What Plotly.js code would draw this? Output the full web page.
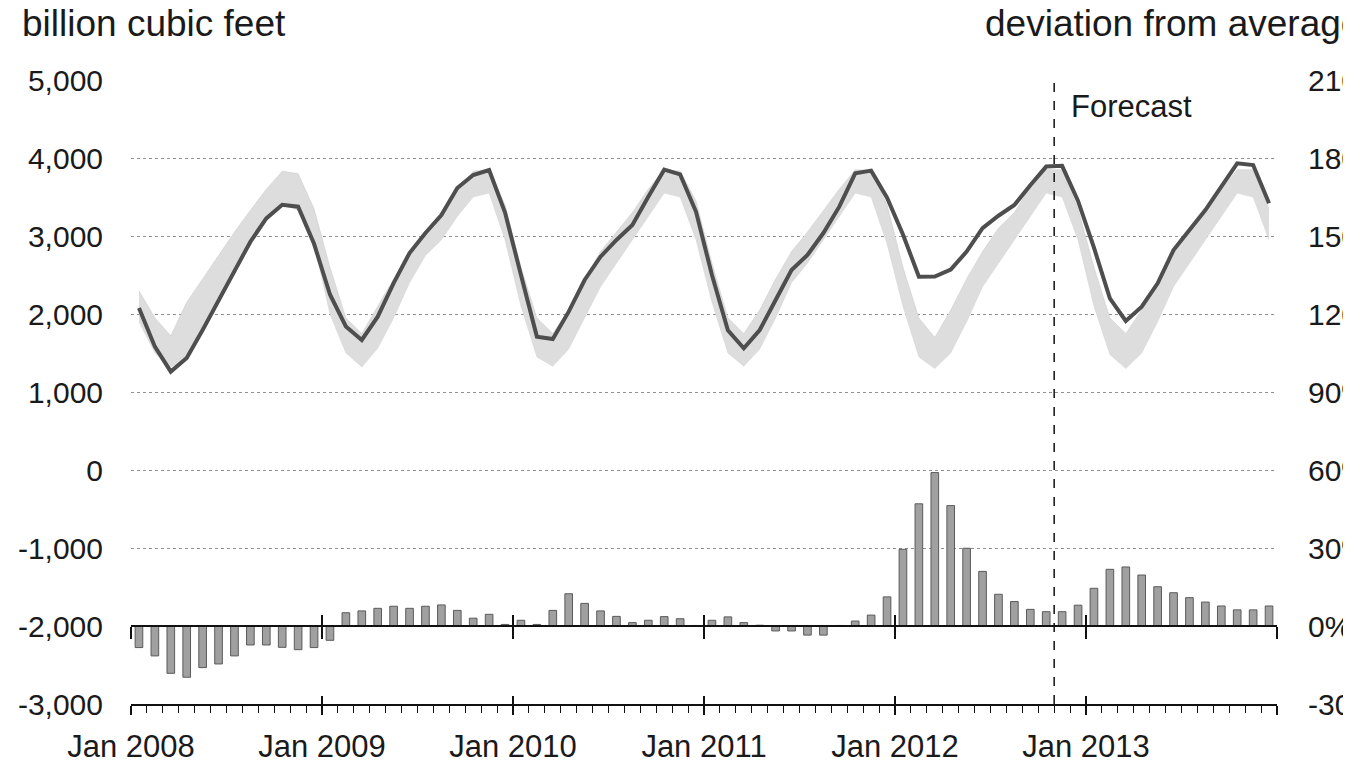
<!DOCTYPE html>
<html>
<head>
<meta charset="utf-8">
<script src="https://cdn.plot.ly/plotly-3.0.1.min.js"></script>
<style>
  html, body { margin: 0; padding: 0; background: #ffffff; width: 1365px; height: 763px; overflow: hidden; }
  #chart { width: 1343px; height: 763px; }
</style>
</head>
<body>
<div id="chart"></div>
<script>
// ---- data ----
const xTickLabels = ['Jan 2008', 'Jan 2009', 'Jan 2010', 'Jan 2011', 'Jan 2012', 'Jan 2013', ''];
const yearTickPos = [0, 12, 24, 36, 48, 60, 72];
const leftTickVals = [-3000, -2000, -1000, 0, 1000, 2000, 3000, 4000, 5000];
const leftTickText = ['-3,000', '-2,000', '-1,000', '0', '1,000', '2,000', '3,000', '4,000', '5,000'];
const rightTickVals = [-30, 0, 30, 60, 90, 120, 150, 180, 210];
const rightTickText = ['-30%', '0%', '30%', '60%', '90%', '120%', '150%', '180%', '210%'];

// working gas in storage, billion cubic feet, Jan 2008 .. Dec 2013
const storage = [
  2077, 1581, 1261, 1436, 1795, 2180, 2564, 2927, 3226, 3400, 3376, 2900,
  2250, 1840, 1667, 1966, 2397, 2782, 3038, 3269, 3615, 3782, 3846, 3300,
  2500, 1710, 1680, 2030, 2436, 2735, 2949, 3141, 3504, 3850, 3790, 3310,
  2500, 1790, 1560, 1795, 2180, 2564, 2756, 3038, 3376, 3803, 3838, 3492,
  3020, 2479, 2480, 2570, 2800, 3100, 3260, 3397, 3650, 3890, 3900, 3450,
  2850, 2200, 1910, 2094, 2393, 2820, 3077, 3333, 3632, 3932, 3910, 3419
];
// five-year range (shaded band), billion cubic feet
const rangeMin = [
  1900, 1500, 1320, 1420, 1780, 2150, 2530, 2880, 3200, 3400, 3330, 2900,
  2000, 1500, 1320, 1560, 1950, 2400, 2750, 2950, 3250, 3500, 3550, 2950,
  2100, 1450, 1330, 1550, 1950, 2350, 2650, 2950, 3250, 3550, 3500, 2950,
  2150, 1500, 1330, 1550, 1950, 2400, 2650, 2950, 3250, 3550, 3500, 2900,
  2100, 1450, 1300, 1500, 1900, 2350, 2650, 2950, 3250, 3550, 3500, 2950,
  2100, 1480, 1300, 1500, 1900, 2350, 2650, 2950, 3250, 3550, 3500, 2950
];
const rangeMax = [
  2300, 1950, 1720, 2150, 2450, 2750, 3050, 3330, 3600, 3830, 3800, 3350,
  2600, 1950, 1750, 2100, 2450, 2800, 3050, 3280, 3600, 3830, 3850, 3400,
  2600, 1950, 1750, 2050, 2450, 2800, 3050, 3300, 3600, 3850, 3830, 3450,
  2650, 1950, 1750, 2050, 2450, 2800, 3050, 3320, 3600, 3850, 3840, 3400,
  2600, 1950, 1700, 2050, 2450, 2800, 3100, 3300, 3630, 3850, 3850, 3350,
  2600, 1950, 1750, 2050, 2400, 2800, 3050, 3300, 3600, 3850, 3850, 3350
];
// deviation from average, percent
const deviation = [
  -8.3, -11.5, -18.2, -19.7, -16.0, -14.6, -11.5, -7.3, -7.3, -8.2, -9.1, -8.3,
  -5.5, 5.1, 5.8, 6.8, 7.6, 6.8, 7.6, 8.1, 6.0, 3.0, 4.5, 0.6,
  2.2, 0.6, 6.0, 12.4, 8.7, 5.8, 3.7, 1.3, 2.2, 3.6, 2.8, 0.2,
  2.2, 3.5, 1.3, 0.3, -1.9, -1.9, -3.5, -3.5, 0.2, 1.9, 4.2, 11.2,
  29.5, 47.0, 59.0, 46.3, 29.9, 21.0, 12.2, 9.4, 6.4, 5.5, 5.5, 8.0,
  14.5, 21.8, 22.7, 19.6, 15.1, 12.8, 10.9, 9.2, 7.7, 6.2, 6.2, 7.7
];
const forecastStart = 58; // month index where the forecast begins
const forecastLabel = 'Forecast';
const leftTitle = 'billion cubic feet';
const rightTitle = 'deviation from average';

// month index -> centre of month on a linear axis
const xMid = storage.map((_, i) => i + 0.5);

const FONT = 'Liberation Sans, Arial, Helvetica, sans-serif';
const TXT = '#1a1a1a';

const traces = [
  { x: xMid, y: rangeMin, type: 'scatter', mode: 'lines', xaxis: 'x', yaxis: 'y',
    line: { color: '#d2d2d2', width: 0.5 }, hoverinfo: 'skip', showlegend: false },
  { x: xMid, y: rangeMax, type: 'scatter', mode: 'lines', xaxis: 'x', yaxis: 'y',
    fill: 'tonexty', fillcolor: '#dddddd',
    line: { color: '#c8c8c8', width: 0.5 }, hoverinfo: 'skip', showlegend: false },
  { x: xMid, y: storage, type: 'scatter', mode: 'lines', xaxis: 'x', yaxis: 'y',
    line: { color: '#4e4e4e', width: 4 }, hoverinfo: 'skip', showlegend: false },
  { x: xMid, y: deviation, type: 'bar', xaxis: 'x', yaxis: 'y2', width: 0.48,
    marker: { color: '#a0a0a0', line: { color: '#5a5a5a', width: 1 } },
    hoverinfo: 'skip', showlegend: false },
  // empty traces so the helper axes are drawn
  { x: [], y: [], type: 'scatter', xaxis: 'x2', yaxis: 'y', showlegend: false, hoverinfo: 'skip' },
  { x: [], y: [], type: 'scatter', xaxis: 'x3', yaxis: 'y', showlegend: false, hoverinfo: 'skip' },
  { x: [], y: [], type: 'scatter', xaxis: 'x4', yaxis: 'y', showlegend: false, hoverinfo: 'skip' }
];

const helperX = {
  range: [0, 72], tickmode: 'array', tickvals: yearTickPos, showticklabels: false,
  showgrid: false, zeroline: false, tickcolor: '#111', fixedrange: true
};

const layout = {
  width: 1343, height: 763,
  margin: { l: 131, r: 66, t: 80, b: 59, pad: 0 },
  paper_bgcolor: '#ffffff', plot_bgcolor: '#ffffff',
  font: { family: FONT, color: TXT, size: 30 },
  showlegend: false,
  bargap: 0,
  xaxis: {
    range: [0, 72], fixedrange: true,
    tickmode: 'array', tickvals: yearTickPos, ticktext: xTickLabels,
    ticks: 'outside', ticklen: 9, tickwidth: 1.5, tickcolor: '#111',
    ticklabelstandoff: 5,
    tickfont: { family: FONT, size: 31, color: TXT },
    minor: { tickmode: 'linear', tick0: 0, dtick: 1, ticks: 'outside', ticklen: 7,
             tickwidth: 1, tickcolor: '#111', showgrid: false },
    showline: true, linecolor: '#111', linewidth: 2,
    showgrid: false, zeroline: false, anchor: 'y'
  },
  // 0% axis line with ticks crossing it
  xaxis2: Object.assign({}, helperX, { overlaying: 'x', anchor: 'free', position: 0.125,
    showline: true, linecolor: '#111', linewidth: 2, ticks: 'outside', ticklen: 12, tickwidth: 2 }),
  xaxis3: Object.assign({}, helperX, { overlaying: 'x', anchor: 'free', position: 0.125,
    showline: false, ticks: 'inside', ticklen: 11, tickwidth: 2 }),
  // upward part of the year ticks on the bottom axis
  xaxis4: Object.assign({}, helperX, { overlaying: 'x', anchor: 'free', position: 0,
    showline: false, ticks: 'inside', ticklen: 8, tickwidth: 1.5 }),
  yaxis: {
    range: [-3000, 5000], fixedrange: true,
    tickmode: 'array', tickvals: leftTickVals, ticktext: leftTickText,
    ticks: '', ticklabelstandoff: 27,
    tickfont: { family: FONT, size: 30, color: TXT },
    showgrid: true, gridcolor: '#8f8f8f', griddash: 'dot', gridwidth: 1,
    zeroline: false, showline: false
  },
  yaxis2: {
    range: [-30, 210], fixedrange: true, overlaying: 'y', side: 'right', anchor: 'x',
    tickmode: 'array', tickvals: rightTickVals, ticktext: rightTickText,
    ticks: '', ticklabelstandoff: 30,
    tickfont: { family: FONT, size: 30, color: TXT },
    showgrid: false, zeroline: false, showline: false
  },
  shapes: [
    { type: 'line', xref: 'x', yref: 'paper', x0: forecastStart, x1: forecastStart, y0: 0, y1: 1,
      line: { color: '#111', width: 1.5, dash: 'dash' } }
  ],
  annotations: [
    { text: leftTitle, xref: 'paper', yref: 'paper', x: -0.0969, y: 1.091,
      xanchor: 'left', yanchor: 'middle', showarrow: false,
      font: { family: FONT, size: 37, color: TXT } },
    { text: rightTitle, xref: 'paper', yref: 'paper', x: 0.7435, y: 1.091,
      xanchor: 'left', yanchor: 'middle', showarrow: false,
      font: { family: FONT, size: 37, color: TXT } },
    { text: forecastLabel, xref: 'x', yref: 'paper', x: forecastStart, y: 0.957,
      xanchor: 'left', yanchor: 'middle', xshift: 15, showarrow: false,
      font: { family: FONT, size: 31, color: TXT } }
  ]
};

Plotly.newPlot('chart', traces, layout, { displayModeBar: false, staticPlot: true });
</script>
</body>
</html>
